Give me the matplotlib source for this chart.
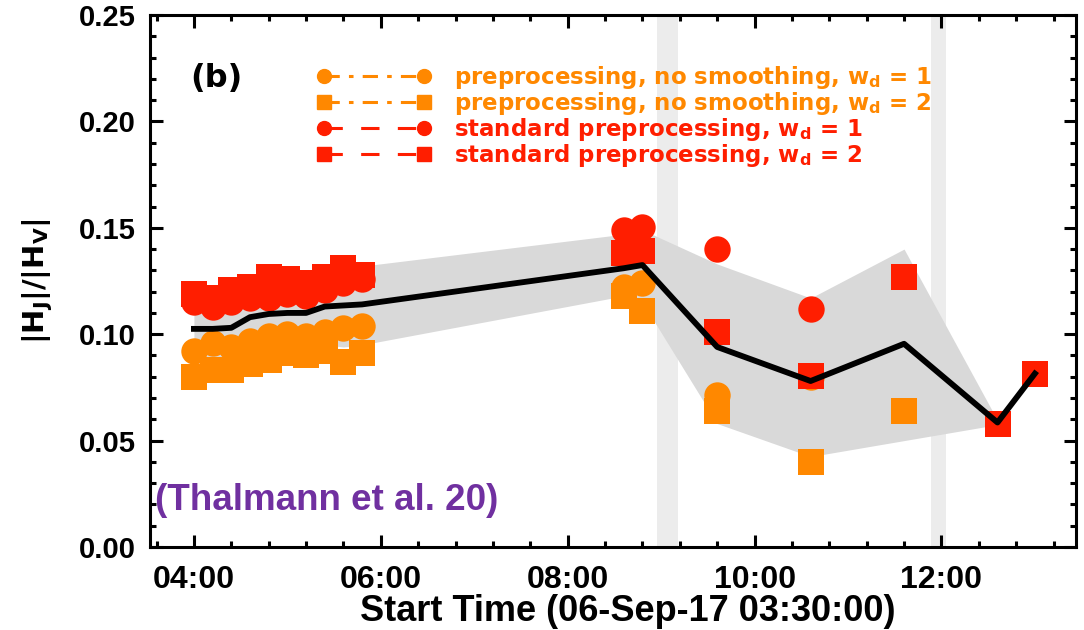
import numpy as np
import matplotlib
matplotlib.use("Agg")
import matplotlib.pyplot as plt
from matplotlib.ticker import MultipleLocator, FormatStrFormatter
from matplotlib.lines import Line2D

plt.rcParams['mathtext.fontset'] = 'custom'
plt.rcParams['mathtext.bf'] = 'DejaVu Sans:bold'
plt.rcParams['mathtext.rm'] = 'DejaVu Sans:bold'
plt.rcParams['mathtext.it'] = 'DejaVu Sans:bold'

# observation times in hours (06-Sep-17)
t_obs = [4.0, 4.2, 4.4, 4.6, 4.8, 5.0, 5.2, 5.4, 5.6, 5.8,
         8.6, 8.8, 9.6, 10.6, 11.6, 12.6, 13.0]

nan = np.nan
# |H_J|/|H_V| for the four preprocessing variants
std_wd1 = [0.115, 0.113, 0.115, 0.117, 0.117, 0.119, 0.118, 0.121, 0.124, 0.126,
           0.149, 0.1505, 0.140, 0.112, nan, nan, nan]
std_wd2 = [0.119, 0.117, 0.121, 0.122, 0.127, 0.126, 0.124, 0.127, 0.131, 0.128,
           0.138, 0.139, 0.101, 0.0805, 0.127, 0.058, 0.0815]
nos_wd1 = [0.092, 0.096, 0.094, 0.097, 0.099, 0.100, 0.099, 0.101, 0.103, 0.104,
           0.122, 0.124, 0.0715, 0.080, nan, nan, nan]
nos_wd2 = [0.080, 0.083, 0.083, 0.086, 0.088, 0.091, 0.090, 0.092, 0.087, 0.091,
           0.118, 0.111, 0.064, 0.040, 0.064, nan, nan]

# average and spread
avg = [0.1025, 0.1025, 0.103, 0.108, 0.1095, 0.110, 0.110, 0.113, 0.1135, 0.114,
       0.131, 0.1325, 0.094, 0.078, 0.0955, 0.0585, 0.0815]
upper = [0.119, 0.118, 0.120, 0.122, 0.125, 0.125, 0.125, 0.128, 0.131, 0.132,
         0.147, 0.149, 0.133, 0.117, 0.140, 0.0595, nan]
lower = [0.087, 0.088, 0.088, 0.092, 0.092, 0.094, 0.094, 0.095, 0.094, 0.095,
         0.118, 0.115, 0.058, 0.0425, 0.050, 0.0575, nan]

# flare intervals
flares = [(8.957, 9.182), (11.89, 12.05)]

ORANGE = '#ff8800'
RED = '#ff1e00'

fig = plt.figure(figsize=(10.84, 6.30), dpi=100)
ax = fig.add_axes([150/1084, 1-547/630, 926/1084, 532/630])

for x0, x1 in flares:
    ax.axvspan(x0, x1, color='#ececec', lw=0, zorder=0.5)

ax.fill_between(t_obs, lower, upper, color='#d9d9d9', lw=0, zorder=1)

ms = 19
ax.plot(t_obs, nos_wd1, 'o', color=ORANGE, ms=ms, mew=0, zorder=2)
ax.plot(t_obs, nos_wd2, 's', color=ORANGE, ms=ms, mew=0, zorder=2)
ax.plot(t_obs, std_wd1, 'o', color=RED, ms=ms, mew=0, zorder=3)
ax.plot(t_obs, std_wd2, 's', color=RED, ms=ms, mew=0, zorder=3)

ax.plot(t_obs, avg, color='black', lw=4.2, zorder=4)

ax.set_xlim(3.53, 13.44)
ax.set_ylim(0.0, 0.25)

ax.set_xticks([4, 6, 8, 10, 12])
ax.set_xticklabels(['04:00', '06:00', '08:00', '10:00', '12:00'])
ax.xaxis.set_minor_locator(MultipleLocator(0.4))
ax.yaxis.set_major_locator(MultipleLocator(0.05))
ax.yaxis.set_minor_locator(MultipleLocator(0.01))
ax.yaxis.set_major_formatter(FormatStrFormatter('%.2f'))

ax.tick_params(which='both', direction='in', top=True, right=True, width=2.2)
ax.tick_params(which='major', length=9)
ax.tick_params(which='minor', length=4.5)
ax.tick_params(axis='x', which='major', pad=13)
ax.tick_params(axis='y', which='major', pad=10)
for lab in ax.get_xticklabels():
    lab.set_fontfamily('Liberation Sans')
    lab.set_fontweight('bold')
    lab.set_fontsize(23)
for lab in ax.get_yticklabels():
    lab.set_fontfamily('Liberation Sans')
    lab.set_fontweight('bold')
    lab.set_fontsize(21)
for sp in ax.spines.values():
    sp.set_linewidth(2.2)

ax.set_xlabel('Start Time (06-Sep-17 03:30:00)', fontfamily='Liberation Sans',
              fontweight='bold', fontsize=26)
ax.xaxis.set_label_coords(0.516, -0.088)
ax.set_ylabel(r'$\mathbf{|H_J|/|H_V|}$', fontsize=21, labelpad=17)

ax.text(0.043, 0.865, '(b)', transform=ax.transAxes, fontsize=23,
        fontweight='bold', color='black')
ax.text(0.005, 0.07, '(Thalmann et al. 20)', transform=ax.transAxes,
        fontfamily='Liberation Sans', fontweight='bold', fontsize=26.5,
        color='#7030a0')

handles = [
    Line2D([], [], color=ORANGE, marker='o', ms=10, lw=2.2, ls=(0, (5, 3, 1.5, 3))),
    Line2D([], [], color=ORANGE, marker='s', ms=10, lw=2.2, ls=(0, (5, 3, 1.5, 3))),
    Line2D([], [], color=RED, marker='o', ms=10, lw=2.2, ls=(0, (6, 6))),
    Line2D([], [], color=RED, marker='s', ms=10, lw=2.2, ls=(0, (6, 6))),
]
labels = [
    r'preprocessing, no smoothing, $\mathbf{w_d}$ = 1',
    r'preprocessing, no smoothing, $\mathbf{w_d}$ = 2',
    r'standard preprocessing, $\mathbf{w_d}$ = 1',
    r'standard preprocessing, $\mathbf{w_d}$ = 2',
]
leg = ax.legend(handles, labels, loc='upper left', bbox_to_anchor=(0.180, 0.907),
                frameon=False, numpoints=2, handlelength=5.0, handletextpad=1.0,
                labelspacing=-0.055, borderpad=0, borderaxespad=0,
                prop={'family': 'DejaVu Sans', 'weight': 'bold', 'size': 16.5},
                labelcolor=[ORANGE, ORANGE, RED, RED])

fig.savefig('out.png', dpi=100)
